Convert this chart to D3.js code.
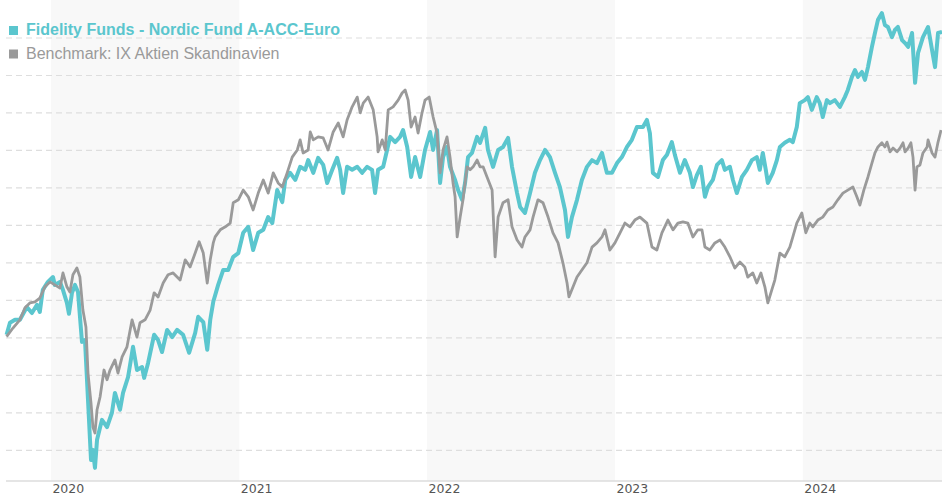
<!DOCTYPE html>
<html>
<head>
<meta charset="utf-8">
<title>Fidelity Funds - Nordic Fund A-ACC-Euro</title>
<script src="https://cdn.jsdelivr.net/npm/d3@7/dist/d3.min.js"></script>
<style>
  html, body { margin: 0; padding: 0; background: #fff; }
  svg { display: block; }
  .grid line { stroke: #dedede; stroke-width: 1.2; stroke-dasharray: 6,4; }
  .axis-line { stroke: #dddddd; stroke-width: 1.5; }
  .year-label { font-family: "DejaVu Sans", Verdana, sans-serif; font-size: 12.5px; fill: #555; }
  .legend text { font-family: "Liberation Sans", Arial, sans-serif; font-size: 16px; }
</style>
</head>
<body>
<svg id="chart"></svg>
<script>
'use strict';

/* Series: [decimal year, indexed value] */
var fundSeries = [
  [2019.764,100.7],[2019.782,103.9],[2019.809,104.7],[2019.835,104.7],[2019.872,108.1],[2019.899,106.5],
  [2019.926,108.7],[2019.941,106.8],[2019.957,112.7],[2019.984,114.8],[2020.011,116.1],[2020.021,114.0],
  [2020.048,114.8],[2020.064,112.7],[2020.085,109.2],[2020.096,106.3],[2020.112,111.9],[2020.128,114.0],
  [2020.144,112.1],[2020.165,98.8],[2020.181,99.3],[2020.197,83.3],[2020.213,67.3],[2020.223,70.0],
  [2020.234,65.2],[2020.245,72.7],[2020.271,78.0],[2020.298,76.1],[2020.324,79.9],[2020.340,85.2],
  [2020.367,80.7],[2020.383,85.2],[2020.410,89.5],[2020.436,97.5],[2020.457,91.3],[2020.484,92.1],
  [2020.495,89.2],[2020.516,93.2],[2020.548,100.7],[2020.569,99.3],[2020.590,96.1],[2020.617,102.0],
  [2020.644,100.1],[2020.670,102.0],[2020.702,100.7],[2020.734,95.9],[2020.766,101.2],[2020.782,105.5],
  [2020.809,104.1],[2020.830,96.7],[2020.846,104.7],[2020.862,109.5],[2020.888,114.0],[2020.915,118.0],
  [2020.941,118.0],[2020.968,121.5],[2020.995,122.5],[2021.021,127.9],[2021.048,129.5],[2021.074,123.3],
  [2021.101,127.9],[2021.128,128.7],[2021.154,132.1],[2021.176,130.5],[2021.202,139.3],[2021.229,136.1],
  [2021.245,142.0],[2021.271,143.9],[2021.298,142.0],[2021.324,145.5],[2021.351,144.7],[2021.367,147.3],
  [2021.394,143.9],[2021.420,147.9],[2021.447,146.0],[2021.468,141.2],[2021.495,144.7],[2021.521,147.9],
  [2021.537,144.7],[2021.553,138.5],[2021.574,145.5],[2021.601,144.7],[2021.628,145.5],[2021.654,143.9],
  [2021.681,145.5],[2021.707,144.7],[2021.723,138.5],[2021.739,144.7],[2021.766,145.5],[2021.787,150.0],
  [2021.803,153.5],[2021.830,152.1],[2021.856,153.5],[2021.872,155.3],[2021.894,150.8],[2021.915,142.8],
  [2021.936,148.1],[2021.963,142.8],[2021.989,150.0],[2022.016,154.8],[2022.032,150.0],[2022.053,155.3],
  [2022.069,141.2],[2022.085,148.1],[2022.106,150.8],[2022.122,145.5],[2022.149,142.0],[2022.165,139.3],
  [2022.186,136.7],[2022.202,141.2],[2022.218,148.1],[2022.239,149.2],[2022.266,153.5],[2022.282,151.9],
  [2022.309,155.9],[2022.324,150.0],[2022.351,145.5],[2022.378,150.0],[2022.404,150.8],[2022.431,153.2],
  [2022.452,145.5],[2022.479,138.5],[2022.495,134.8],[2022.521,133.2],[2022.548,138.5],[2022.574,143.9],
  [2022.601,147.3],[2022.628,150.0],[2022.654,148.1],[2022.681,143.9],[2022.707,140.1],[2022.734,134.0],
  [2022.750,126.8],[2022.771,132.1],[2022.798,136.7],[2022.824,142.0],[2022.851,145.5],[2022.878,147.3],
  [2022.904,146.5],[2022.931,149.2],[2022.957,143.9],[2022.984,143.9],[2023.011,146.5],[2023.037,148.1],
  [2023.064,150.8],[2023.090,152.7],[2023.117,156.1],[2023.149,156.1],[2023.170,158.0],[2023.186,154.5],
  [2023.202,143.9],[2023.229,142.8],[2023.255,147.3],[2023.277,148.7],[2023.303,152.1],[2023.319,148.7],
  [2023.346,143.9],[2023.372,147.3],[2023.399,143.9],[2023.415,140.1],[2023.436,143.3],[2023.457,145.5],
  [2023.479,137.5],[2023.495,140.1],[2023.521,142.0],[2023.543,146.0],[2023.569,147.3],[2023.585,144.7],
  [2023.612,145.5],[2023.628,142.0],[2023.649,138.5],[2023.676,142.8],[2023.702,144.7],[2023.729,147.3],
  [2023.755,148.1],[2023.771,144.7],[2023.787,149.2],[2023.803,144.7],[2023.814,141.2],[2023.840,143.9],
  [2023.862,147.3],[2023.878,150.8],[2023.904,151.9],[2023.931,152.7],[2023.947,152.1],[2023.968,156.1],
  [2023.984,162.5],[2024.011,163.3],[2024.027,164.1],[2024.048,160.7],[2024.074,164.1],[2024.090,162.5],
  [2024.106,158.8],[2024.128,163.3],[2024.144,162.5],[2024.170,163.3],[2024.197,161.5],[2024.223,164.1],
  [2024.239,166.0],[2024.261,169.5],[2024.277,171.3],[2024.293,169.5],[2024.314,170.8],[2024.330,168.7],
  [2024.346,172.1],[2024.367,177.5],[2024.383,181.2],[2024.399,184.7],[2024.420,186.5],[2024.436,183.3],
  [2024.452,182.8],[2024.473,180.1],[2024.489,182.0],[2024.505,182.8],[2024.527,179.3],[2024.543,178.5],
  [2024.559,177.5],[2024.580,181.2],[2024.596,167.9],[2024.612,175.9],[2024.638,180.1],[2024.665,182.8],
  [2024.686,176.7],[2024.702,172.1],[2024.718,181.2],[2024.739,181.5]
];

var benchmarkSeries = [
  [2019.764,100.2],[2019.798,102.5],[2019.835,104.7],[2019.862,107.9],[2019.888,109.2],[2019.915,109.5],
  [2019.941,110.5],[2019.968,113.5],[2019.995,114.8],[2020.021,114.0],[2020.048,113.2],[2020.064,117.2],
  [2020.085,113.5],[2020.101,112.1],[2020.117,116.7],[2020.138,118.5],[2020.154,116.1],[2020.170,107.3],
  [2020.186,102.8],[2020.197,90.5],[2020.213,82.5],[2020.223,76.1],[2020.234,74.5],[2020.245,80.7],
  [2020.261,84.1],[2020.282,91.3],[2020.298,88.7],[2020.314,91.3],[2020.340,94.0],[2020.356,90.5],
  [2020.378,94.8],[2020.404,97.5],[2020.431,104.7],[2020.457,100.1],[2020.473,103.9],[2020.500,104.7],
  [2020.527,107.3],[2020.548,111.9],[2020.569,110.8],[2020.596,114.5],[2020.622,116.7],[2020.649,117.2],
  [2020.686,115.3],[2020.713,120.7],[2020.739,118.8],[2020.766,122.5],[2020.787,125.5],[2020.809,122.5],
  [2020.830,114.5],[2020.846,120.7],[2020.862,125.2],[2020.872,126.8],[2020.899,128.7],[2020.926,129.5],
  [2020.952,130.5],[2020.968,135.9],[2020.995,136.7],[2021.021,139.3],[2021.048,137.5],[2021.074,134.0],
  [2021.101,138.5],[2021.128,142.0],[2021.154,138.5],[2021.181,143.9],[2021.207,141.2],[2021.229,140.1],
  [2021.255,143.9],[2021.282,148.1],[2021.309,150.0],[2021.324,152.7],[2021.340,149.2],[2021.367,150.0],
  [2021.378,154.8],[2021.394,152.7],[2021.420,153.5],[2021.447,153.2],[2021.473,150.0],[2021.500,154.8],
  [2021.527,157.2],[2021.553,153.5],[2021.574,158.0],[2021.601,161.5],[2021.628,164.1],[2021.644,159.9],
  [2021.660,162.5],[2021.686,164.1],[2021.713,160.7],[2021.734,153.5],[2021.739,149.5],[2021.761,152.7],
  [2021.777,150.0],[2021.793,160.7],[2021.819,161.5],[2021.846,163.3],[2021.867,165.2],[2021.883,166.0],
  [2021.899,163.3],[2021.915,156.1],[2021.936,158.8],[2021.952,154.5],[2021.973,159.9],[2021.989,163.3],
  [2022.011,164.1],[2022.032,158.8],[2022.053,154.5],[2022.069,143.9],[2022.085,150.0],[2022.106,153.5],
  [2022.122,148.1],[2022.138,141.2],[2022.149,137.5],[2022.160,126.8],[2022.176,132.1],[2022.191,136.7],
  [2022.213,145.5],[2022.229,144.7],[2022.245,145.5],[2022.266,147.3],[2022.282,145.5],[2022.298,145.5],
  [2022.319,142.8],[2022.346,139.3],[2022.362,121.5],[2022.378,132.1],[2022.404,135.9],[2022.431,136.7],
  [2022.452,129.5],[2022.479,126.0],[2022.505,124.1],[2022.521,126.8],[2022.548,128.7],[2022.564,132.1],
  [2022.590,136.7],[2022.617,135.9],[2022.644,132.1],[2022.670,127.9],[2022.697,125.2],[2022.723,119.9],
  [2022.745,114.5],[2022.755,110.8],[2022.777,113.5],[2022.798,116.1],[2022.824,118.0],[2022.851,119.9],
  [2022.878,124.1],[2022.904,125.2],[2022.931,126.8],[2022.947,128.7],[2022.973,123.3],[2023.000,125.2],
  [2023.027,127.9],[2023.053,130.5],[2023.080,129.5],[2023.106,131.3],[2023.133,132.1],[2023.170,130.5],
  [2023.197,124.1],[2023.223,123.3],[2023.250,127.9],[2023.282,131.3],[2023.309,128.7],[2023.335,130.5],
  [2023.362,130.8],[2023.388,130.5],[2023.415,126.8],[2023.441,128.7],[2023.463,128.7],[2023.479,124.1],
  [2023.505,123.3],[2023.532,125.2],[2023.559,126.0],[2023.585,124.1],[2023.612,121.5],[2023.638,118.5],
  [2023.665,120.1],[2023.691,118.8],[2023.707,116.1],[2023.734,117.2],[2023.755,114.5],[2023.777,117.2],
  [2023.798,113.5],[2023.814,109.2],[2023.835,112.7],[2023.851,115.3],[2023.878,122.5],[2023.904,121.5],
  [2023.931,124.1],[2023.947,126.8],[2023.968,130.5],[2023.995,133.2],[2024.016,127.9],[2024.037,130.5],
  [2024.053,129.5],[2024.080,131.3],[2024.106,132.1],[2024.133,134.0],[2024.160,134.8],[2024.186,136.7],
  [2024.213,138.5],[2024.239,139.3],[2024.266,140.1],[2024.287,137.5],[2024.303,135.3],[2024.324,139.3],
  [2024.346,142.8],[2024.367,146.5],[2024.383,149.2],[2024.399,150.8],[2024.420,151.9],[2024.436,150.8],
  [2024.447,152.1],[2024.463,149.5],[2024.479,150.5],[2024.500,149.5],[2024.516,150.5],[2024.532,151.9],
  [2024.543,149.5],[2024.559,150.5],[2024.574,151.9],[2024.585,148.1],[2024.596,139.3],[2024.606,145.5],
  [2024.622,146.0],[2024.638,149.2],[2024.660,150.8],[2024.665,152.7],[2024.686,149.2],[2024.702,148.1],
  [2024.718,152.1],[2024.734,155.3]
];

var yearLabels = [2020, 2021, 2022, 2023, 2024];
var shadedYears = [2020, 2022, 2024];
var gridValues = [70, 80, 90, 100, 110, 120, 130, 140, 150, 160, 170, 180];
var timeRange = [2019.761, 2024.739];
var valueRange = [61.7, 190];

var legendItems = [
  { name: 'Fidelity Funds - Nordic Fund A-ACC-Euro', color: '#5bc6ce', weight: 'bold' },
  { name: 'Benchmark: IX Aktien Skandinavien', color: '#9a9a9a', weight: 'normal' }
];

var width = 942;
var height = 500;
var plot = { left: 6, right: 942, top: 0, bottom: 481 };

/* Decimal year -> Date */
function yearToDate(t) {
  var y = Math.floor(t);
  var start = new Date(y, 0, 1);
  var end = new Date(y + 1, 0, 1);
  return new Date(+start + (t - y) * (end - start));
}

var svg = d3.select('#chart')
  .attr('width', width)
  .attr('height', height);

var x = d3.scaleTime()
  .domain(timeRange.map(yearToDate))
  .range([plot.left, plot.right]);

var y = d3.scaleLinear()
  .domain(valueRange)
  .range([plot.bottom, plot.top]);

/* We append the shaded year bands */
svg.append('g')
  .selectAll('rect')
  .data(shadedYears)
  .enter().append('rect')
    .attr('x', function(d) { return x(yearToDate(d)); })
    .attr('y', plot.top)
    .attr('width', function(d) { return x(yearToDate(d + 1)) - x(yearToDate(d)); })
    .attr('height', plot.bottom - plot.top)
    .attr('fill', '#f8f8f8');

/* We append the grid */
var yGrid = d3.axisLeft(y)
  .tickValues(gridValues)
  .tickSize(-(plot.right - plot.left))
  .tickFormat('');

svg.append('g')
  .attr('class', 'grid')
  .attr('transform', 'translate(' + plot.left + ',0)')
  .call(yGrid)
  .call(function(g) { g.select('.domain').remove(); });

/* We append the x axis */
var xAxis = d3.axisBottom(x)
  .tickValues(yearLabels.map(yearToDate))
  .tickSize(0)
  .tickFormat(d3.timeFormat('%Y'));

var gX = svg.append('g')
  .attr('transform', 'translate(0,' + plot.bottom + ')')
  .call(xAxis)
  .attr('font-family', null)
  .attr('font-size', null);

gX.select('.domain')
  .attr('class', 'axis-line')
  .attr('d', 'M' + plot.left + ',0H' + plot.right);

gX.selectAll('.tick text')
  .attr('class', 'year-label')
  .attr('text-anchor', 'start')
  .attr('x', 1)
  .attr('y', 12)
  .attr('dy', 0)
  .attr('fill', null);

/* We append the lines, benchmark drawn on top */
var line = d3.line()
  .x(function(d) { return x(yearToDate(d[0])); })
  .y(function(d) { return y(d[1]); });

svg.append('path')
  .datum(fundSeries)
  .attr('fill', 'none')
  .attr('stroke', legendItems[0].color)
  .attr('stroke-width', 4)
  .attr('stroke-linejoin', 'round')
  .attr('d', line);

svg.append('path')
  .datum(benchmarkSeries)
  .attr('fill', 'none')
  .attr('stroke', legendItems[1].color)
  .attr('stroke-width', 2.8)
  .attr('stroke-linejoin', 'round')
  .attr('d', line);

/* We append the legend */
var legend = svg.append('g')
  .attr('class', 'legend')
  .selectAll('g')
  .data(legendItems)
  .enter().append('g')
    .attr('transform', function(d, i) { return 'translate(9,' + (26 + i * 23.5) + ')'; });

legend.append('rect')
  .attr('width', 9)
  .attr('height', 9)
  .attr('fill', function(d) { return d.color; });

legend.append('text')
  .attr('x', 17)
  .attr('y', 9)
  .attr('fill', function(d) { return d.color; })
  .attr('font-weight', function(d) { return d.weight; })
  .text(function(d) { return d.name; });
</script>
</body>
</html>
